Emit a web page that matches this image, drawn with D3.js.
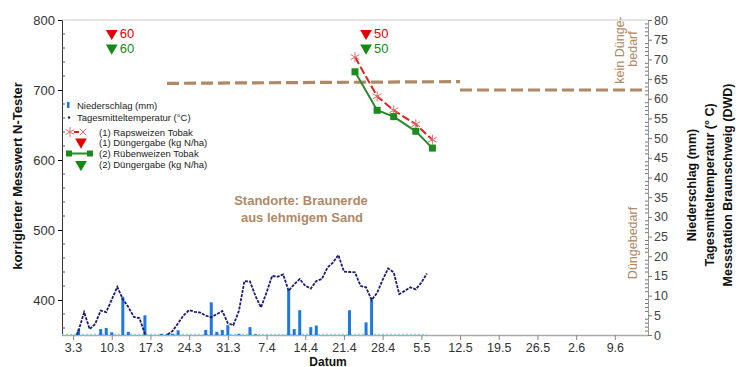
<!DOCTYPE html>
<html><head><meta charset="utf-8">
<script src="https://cdn.jsdelivr.net/npm/d3@7"></script>
<style>body{margin:0;background:#fff}svg{display:block;font-family:"Liberation Sans",Arial,sans-serif}</style>
</head><body><svg id="c" width="741" height="367"></svg>
<script>
// ---- data ----
const dayStart = "2013-03-01";
const temperature = [-3,-4,-2,1.1,5.8,1.5,2.8,6.2,5.8,9.0,
  12.2,9.1,7.1,4.6,4.3,0.3,-2,-3,-2.5,0,
  1.0,3.0,5.0,6.3,5.9,5.7,4.9,4.5,5.3,6.1,
  3.0,2.5,6.1,13.7,13.6,9.9,7.0,10.8,15.0,14.8,
  15.4,11.2,12.9,14.2,12.5,11.8,13.7,14.2,17.1,18.4,
  20.3,16.1,16.0,15.9,12.5,12.1,8.9,10.7,14.0,16.9,
  15.9,10.4,11.2,12.1,11.6,13.3,15.6];
const precipitation = [0,0,0,1.4,0,0,0,1.5,1.8,0.7,
  0,9.7,0.8,0,0,5.0,0,0,0.3,0.3,
  0.3,1.2,0,0,0,0,1.3,8.3,0.8,1.3,
  2.5,0,0.3,0,2.0,0.2,0,0,0,0,
  0,11.4,1.5,6.3,0,2.0,2.4,0,0,0,
  0,0,6.3,0,0,3.2,9.0,0,0,0,
  0,0,0,0,0,0,0];
const ntDates = ["2013-04-23","2013-04-27","2013-04-30","2013-05-04","2013-05-07"];
const rapsweizen = [747,691,671,651,629];
const ruebenweizen = [726,671,662,641,617];
const fertDates = ["2013-03-10","2013-04-25"];
const fert1 = [60,50];
const fert2 = [60,50];
const thresh1Dates = ["2013-03-20","2013-05-12"];
const thresh1 = [709.5,712];
const thresh2Dates = ["2013-05-12","2013-06-14"];
const thresh2 = [700,700];
const xTickDates = ["2013-03-03","2013-03-10","2013-03-17","2013-03-24","2013-03-31","2013-04-07","2013-04-14","2013-04-21","2013-04-28","2013-05-05","2013-05-12","2013-05-19","2013-05-26","2013-06-02","2013-06-09"];
const leftTicks = [400,500,600,700,800];
const rightTicks = [0,5,10,15,20,25,30,35,40,45,50,55,60,65,70,75,80];

// ---- setup ----
const parse = d3.utcParse("%Y-%m-%d");
const t0 = parse(dayStart);
const dayDate = i => d3.utcDay.offset(t0, i);
const L=62, R=648, T=20, B=335;
const svg = d3.select("#c");
const x = d3.scaleUtc().domain([parse("2013-03-01"), parse("2013-06-15")]).range([L,R]);
const yL = d3.scaleLinear().domain([350,800]).range([B,T]);
const yR = d3.scaleLinear().domain([0,80]).range([B,T]);
const brown = "#b08866";

svg.append("defs").append("clipPath").attr("id","clip")
  .append("rect").attr("x",L).attr("y",T).attr("width",R-L).attr("height",B-T);

// top border
svg.append("line").attr("x1",L).attr("x2",R).attr("y1",T).attr("y2",T).attr("stroke","#c8c8c8");

// bottom axis
const xAxis = d3.axisBottom(x).tickValues(xTickDates.map(parse)).tickFormat(d3.utcFormat("%-d.%-m")).tickSize(5).tickSizeOuter(0);
const gx = svg.append("g").attr("transform",`translate(0,${B})`).call(xAxis);
gx.select(".domain").attr("stroke","#aaa").attr("stroke-width",1.5);
gx.selectAll(".tick line").attr("stroke","#888");
gx.selectAll("text").attr("font-size","12.5px").attr("fill","#333").attr("y",7).attr("dy","0.8em").attr("font-family","Liberation Sans, Arial");

// left axis
const gl = svg.append("g").attr("transform",`translate(${L},0)`)
  .call(d3.axisLeft(yL).tickValues(leftTicks).tickSize(4).tickSizeOuter(0).tickFormat(d3.format("d")));
gl.select(".domain").attr("stroke","#333");
gl.selectAll("text").attr("font-size","13px").attr("fill","#333").attr("font-family","Liberation Sans, Arial");
const minorL = d3.range(360,800,20).filter(v=>v%100!==0);
svg.append("g").selectAll("line").data(minorL).join("line")
  .attr("x1",L).attr("x2",L+3).attr("y1",d=>yL(d)).attr("y2",d=>yL(d)).attr("stroke","#555");

// right axis
const gr = svg.append("g").attr("transform",`translate(${R},0)`)
  .call(d3.axisRight(yR).tickValues(rightTicks).tickSize(4).tickSizeOuter(0));
gr.select(".domain").attr("stroke","#999");
gr.selectAll(".tick line").attr("stroke","#777");
gr.selectAll("text").attr("font-size","12.5px").attr("fill","#444").attr("x",6).attr("font-family","Liberation Sans, Arial");
const minorR = d3.range(1,80).filter(v=>v%5!==0);
svg.append("g").selectAll("line").data(minorR).join("line")
  .attr("x1",R-3).attr("x2",R).attr("y1",d=>yR(d)).attr("y2",d=>yR(d)).attr("stroke","#777");

// precipitation baseline dots
svg.append("line").attr("x1",x(dayDate(0))).attr("x2",x(dayDate(precipitation.length-1)))
  .attr("y1",B-0.5).attr("y2",B-0.5).attr("stroke","#8fd0ea").attr("stroke-width",1.5).attr("stroke-dasharray","2,2");

// precipitation bars
svg.append("g").selectAll("rect").data(precipitation.map((v,i)=>({d:dayDate(i),v})).filter(p=>p.v>0)).join("rect")
  .attr("x",p=>x(p.d)-1.5).attr("width",3)
  .attr("y",p=>yR(p.v)).attr("height",p=>yR(0)-yR(p.v)).attr("fill","#1f78e0");

// temperature line
const tData = temperature.map((v,i)=>({d:dayDate(i),v}));
svg.append("path").datum(tData).attr("clip-path","url(#clip)")
  .attr("d",d3.line().x(p=>x(p.d)).y(p=>yR(p.v)))
  .attr("fill","none").attr("stroke","#1c1c70").attr("stroke-width",1.8).attr("stroke-dasharray","3,1.2");

// threshold lines
const thrLine = d3.line().x(p=>x(p.d)).y(p=>yL(p.v));
[[thresh1Dates,thresh1],[thresh2Dates,thresh2]].forEach(([ds,vs])=>{
  svg.append("path").datum(ds.map((d,i)=>({d:parse(d),v:vs[i]})))
    .attr("d",thrLine).attr("fill","none").attr("stroke",brown).attr("stroke-width",3.2).attr("stroke-dasharray","12,5");
});

// N-tester series
const ntLine = d3.line().x(p=>x(p.d)).y(p=>yL(p.v));
const raps = ntDates.map((d,i)=>({d:parse(d),v:rapsweizen[i]}));
const rueb = ntDates.map((d,i)=>({d:parse(d),v:ruebenweizen[i]}));
svg.append("path").datum(raps).attr("d",ntLine).attr("fill","none").attr("stroke","#e02020").attr("stroke-width",2).attr("stroke-dasharray","8,3");
svg.append("path").datum(rueb).attr("d",ntLine).attr("fill","none").attr("stroke","#2a8a2a").attr("stroke-width",2);
const ast = d3.symbol().type(d3.symbolAsterisk).size(70);
svg.append("g").selectAll("path").data(raps).join("path")
  .attr("transform",p=>`translate(${x(p.d)},${yL(p.v)})`).attr("d",ast)
  .attr("fill","none").attr("stroke","#e06a6a").attr("stroke-width",1);
svg.append("g").selectAll("rect").data(rueb).join("rect")
  .attr("x",p=>x(p.d)-3.5).attr("y",p=>yL(p.v)-3.5).attr("width",7).attr("height",7).attr("fill","#1e8a1e");

// fertilizer markers
const tri = d3.symbol().type(d3.symbolTriangle).size(60);
function fertMark(vals, level, col){
  const g = svg.append("g");
  fertDates.forEach((d,i)=>{
    const cx = x(parse(d)), cy = yL(level);
    g.append("path").attr("d",tri).attr("transform",`translate(${cx},${cy}) rotate(180)`).attr("fill",col);
    g.append("text").attr("x",cx+8).attr("y",cy+5).attr("font-size","13px").attr("fill",col).text(vals[i]);
  });
}
fertMark(fert1, 781, "#e00000");
fertMark(fert2, 760, "#138a13");

// texts
svg.append("text").attr("x",301).attr("y",205).attr("text-anchor","middle").attr("font-size","13px").attr("font-weight","bold").attr("fill",brown).text("Standorte: Braunerde");
svg.append("text").attr("x",302).attr("y",222).attr("text-anchor","middle").attr("font-size","13px").attr("font-weight","bold").attr("fill",brown).text("aus lehmigem Sand");
function vtext(tx,ty,str,opts){
  const t = svg.append("text").attr("transform",`translate(${tx},${ty}) rotate(-90)`).attr("text-anchor","middle").text(str);
  Object.entries(opts).forEach(([k,v])=>t.attr(k,v));
  return t;
}
vtext(624,50,"kein Dünge-",{"font-size":"12.5px","fill":brown});
vtext(637,49,"bedarf",{"font-size":"12.5px","fill":brown});
vtext(637,243,"Düngebedarf",{"font-size":"12.5px","fill":brown});
vtext(22,176,"korrigierter Messwert N-Tester",{"font-size":"13px","font-weight":"bold","fill":"#111"});
vtext(696,185,"Niederschlag (mm)",{"font-size":"12.5px","font-weight":"bold","fill":"#111"});
vtext(714,185,"Tagesmitteltemperatur (° C)",{"font-size":"12.5px","font-weight":"bold","fill":"#111"});
vtext(732,185,"Messstation Braunschweig (DWD)",{"font-size":"12.5px","font-weight":"bold","fill":"#111"});
svg.append("text").attr("x",328).attr("y",366).attr("text-anchor","middle").attr("font-size","12px").attr("font-weight","bold").attr("fill","#111").text("Datum");

// legend
const lg = svg.append("g").attr("font-size","9.5px").attr("fill","#222");
lg.append("rect").attr("x",67).attr("y",102).attr("width",2.5).attr("height",6).attr("fill","#1f78e0");
lg.append("text").attr("x",77).attr("y",108.5).text("Niederschlag (mm)");
lg.append("circle").attr("cx",69).attr("cy",117.5).attr("r",1.2).attr("fill","#1c1c70");
lg.append("text").attr("x",77).attr("y",121).text("Tagesmitteltemperatur (°C)");
lg.append("path").attr("d",ast).attr("transform","translate(70,132)").attr("fill","none").attr("stroke","#e06a6a");
lg.append("line").attr("x1",74).attr("x2",79).attr("y1",132).attr("y2",132).attr("stroke","#e02020").attr("stroke-width",2);
lg.append("path").attr("d",d3.symbol().type(d3.symbolTimes).size(30)).attr("transform","translate(83,132)").attr("fill","none").attr("stroke","#e06a6a");
lg.append("text").attr("x",99).attr("y",135.5).text("(1) Rapsweizen Tobak");
lg.append("path").attr("d",tri).attr("transform","translate(81,142) rotate(180)").attr("fill","#e00000");
lg.append("text").attr("x",99).attr("y",145.5).text("(1) Düngergabe (kg N/ha)");
lg.append("line").attr("x1",69).attr("x2",90).attr("y1",153.5).attr("y2",153.5).attr("stroke","#2a8a2a").attr("stroke-width",2);
lg.append("rect").attr("x",66).attr("y",150.5).attr("width",6).attr("height",6).attr("fill","#1e8a1e");
lg.append("rect").attr("x",87).attr("y",150.5).attr("width",6).attr("height",6).attr("fill","#1e8a1e");
lg.append("text").attr("x",99).attr("y",157).text("(2) Rübenweizen Tobak");
lg.append("path").attr("d",tri).attr("transform","translate(81,164.5) rotate(180)").attr("fill","#138a13");
lg.append("text").attr("x",99).attr("y",168).text("(2) Düngergabe (kg N/ha)");
</script></body></html>
